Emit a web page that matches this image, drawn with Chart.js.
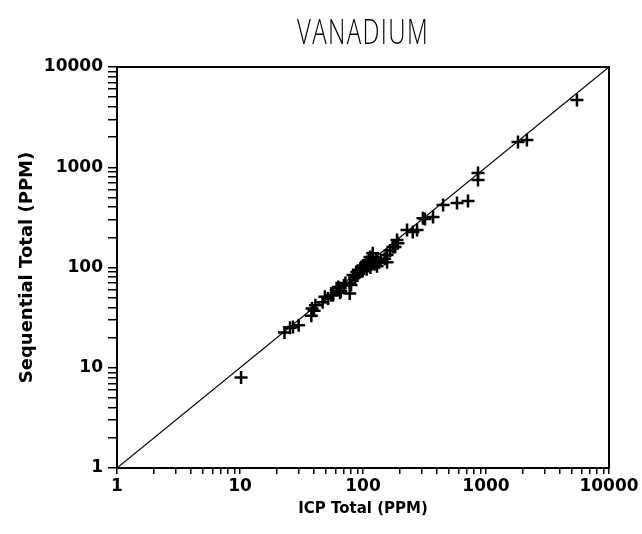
<!DOCTYPE html>
<html>
<head>
<meta charset="utf-8">
<script src="https://cdn.jsdelivr.net/npm/chart.js@4/dist/chart.umd.min.js"></script>
<style>
  html, body { margin: 0; padding: 0; background: #fff; }
  #wrap { width: 642px; height: 534px; }
</style>
</head>
<body>
<div id="wrap"><canvas id="chart"></canvas></div>
<script>
// data -----------------------------------------------------
const icpTotal = [
  10.2, 23, 25.5, 27, 30, 38, 38.5, 41, 40, 47, 49, 52, 55, 57, 61, 63, 65, 66,
  70, 72, 78, 78, 80, 83, 86, 89, 90, 92, 95, 97, 99, 100, 102, 105, 107, 108,
  110, 112, 114, 115, 118, 120, 120, 124, 128, 130, 135, 140, 150, 157, 157,
  166, 175, 182, 189, 192, 228, 254, 275, 307, 319, 371, 448, 581, 714, 861,
  861, 1820, 2150, 5490,
];
const seqTotal = [
  8.0, 22.5, 25, 25.5, 26.5, 33, 39, 42, 37, 45, 51, 49, 53, 53, 62, 64, 56, 58,
  66, 70, 55, 70, 67, 84, 80, 90, 83, 88, 95, 101, 92, 105, 98, 110, 96, 113,
  104, 118, 127, 100, 110, 139, 127, 108, 120, 103, 112, 118, 122, 113, 133,
  148, 160, 160, 188, 175, 236, 226, 237, 310, 305, 319, 420, 440, 460, 877,
  746, 1790, 1870, 4690,
];
const lineEnds = [1, 10000];
const decadeLabels = [1, 10, 100, 1000, 10000];
const tickValues = [];
for (const d of [1, 10, 100, 1000]) {
  for (let k = 1; k < 10; k++) tickValues.push(d * k);
}
tickValues.push(10000);
const chartTitle = "VANADIUM";

// helpers ---------------------------------------------------
const points = icpTotal.map((x, i) => ({ x: x, y: seqTotal[i] }));
const diagonal = lineEnds.map((v) => ({ x: v, y: v }));

// box round the plot + the thin, narrow title over the plot area
const frame = {
  id: "frame",
  afterDraw(chart) {
    const a = chart.chartArea;
    const ctx = chart.ctx;
    ctx.save();
    ctx.strokeStyle = "#000";
    ctx.lineWidth = 2;
    ctx.strokeRect(a.left, a.top, a.right - a.left, a.bottom - a.top);

    ctx.fillStyle = "#000";
    ctx.font = "300 35px 'Open Sans', 'DejaVu Sans', sans-serif";
    ctx.letterSpacing = "2px";
    ctx.textAlign = "center";
    ctx.textBaseline = "alphabetic";
    const w = ctx.measureText(chartTitle).width;
    ctx.translate((a.left + a.right) / 2, 44);
    ctx.scale(132 / w, 1);
    ctx.fillText(chartTitle, 0, 0);
    ctx.restore();
  },
};

function axis(titleText, pos, tickLen, tickPad, titleSize, titlePad) {
  return {
    type: "logarithmic",
    position: pos,
    min: 1,
    max: 10000,
    afterBuildTicks: (s) => {
      s.ticks = tickValues.map((v) => ({ value: v }));
    },
    ticks: {
      autoSkip: false,
      maxRotation: 0,
      color: "#000",
      padding: tickPad,
      font: { family: "DejaVu Sans, sans-serif", size: 17, weight: "bold" },
      callback: (v) => (decadeLabels.includes(v) ? String(v) : ""),
    },
    grid: {
      drawOnChartArea: false,
      drawTicks: true,
      tickLength: tickLen,
      color: "#000",
      lineWidth: 1.5,
    },
    border: { display: true, color: "#000", width: 2 },
    title: {
      display: true,
      text: titleText,
      color: "#000",
      padding: titlePad,
      font: { family: "DejaVu Sans, sans-serif", size: titleSize, weight: "bold" },
    },
  };
}

const xAxis = axis("ICP Total (PPM)", "bottom", 6, 2, 15, { top: 2, bottom: 16 });
xAxis.afterFit = (s) => { s.height = 66; };
const yAxis = axis("Sequential Total (PPM)", "left", 9, 5, 18, { top: 17, bottom: 4 });
yAxis.afterFit = (s) => { s.width = 117; };

new Chart(document.getElementById("chart"), {
  type: "scatter",
  data: {
    datasets: [
      {
        label: "Vanadium",
        data: points,
        pointStyle: "cross",
        pointRadius: 6.5,
        pointBorderWidth: 2.5,
        borderColor: "#000",
        backgroundColor: "#000",
      },
      {
        label: "1:1",
        type: "line",
        data: diagonal,
        pointRadius: 0,
        borderWidth: 1.2,
        borderColor: "#000",
      },
    ],
  },
  options: {
    responsive: true,
    maintainAspectRatio: false,
    animation: false,
    layout: { padding: { left: 0, right: 33, top: 67, bottom: 0 } },
    plugins: {
      legend: { display: false },
      tooltip: { enabled: false },
      title: { display: false },
    },
    scales: { x: xAxis, y: yAxis },
  },
  plugins: [frame],
});
</script>
</body>
</html>
